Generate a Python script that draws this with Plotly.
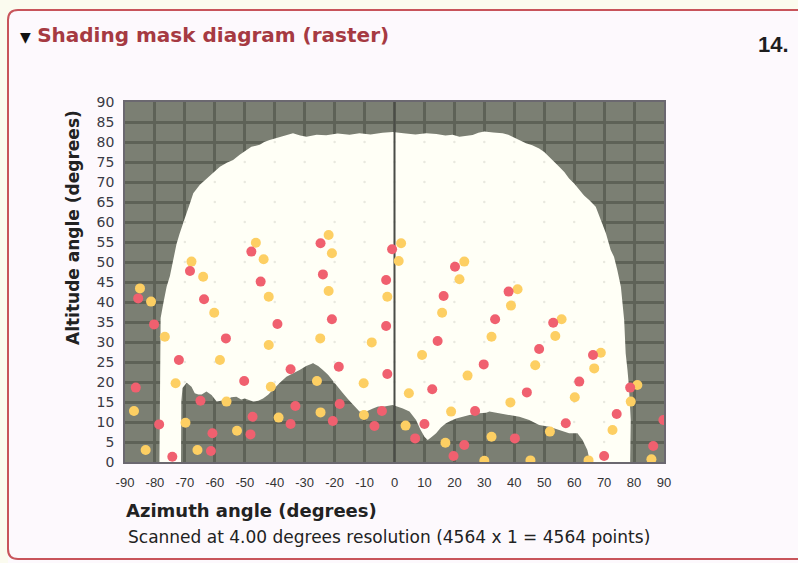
import plotly.graph_objects as go

# ---------------- data ----------------
x_ticks = [-90, -80, -70, -60, -50, -40, -30, -20, -10, 0, 10, 20, 30, 40, 50, 60, 70, 80, 90]
y_ticks = [0, 5, 10, 15, 20, 25, 30, 35, 40, 45, 50, 55, 60, 65, 70, 75, 80, 85, 90]

# upper edge of the visible sky (left wall -> top -> right wall)
sky_upper_az = [-78.5, -78.4, -78.4, -78.1, -77.2, -76.1, -75.0, -73.9, -72.8, -71.8, -70.8, -70.0,
                -68.3, -67.2, -65.0, -63.0, -61.1, -58.3, -56.0, -53.9, -51.7, -49.5, -47.8, -45.0,
                -43.5, -41.7, -38.3, -36.0, -33.9, -31.5, -29.4, -26.0, -22.8, -19.0, -15.0, -11.7,
                -8.0, -4.0, -0.6, 3.0, 7.0, 10.6, 14.0, 17.0, 19.4, 21.7, 24.0, 26.1, 28.0, 30.0,
                33.0, 36.1, 38.0, 39.4, 41.5, 43.9, 46.0, 48.3, 50.0, 51.7, 53.3, 55.0, 56.7, 58.3,
                60.0, 61.7, 63.3, 65.0, 67.2, 68.9, 70.6, 72.2, 73.3, 74.4, 75.6, 76.7, 77.2, 77.8,
                78.3, 78.9, 78.9, 78.7]
sky_upper_alt = [0.0, 10.0, 30.0, 36.0, 39.7, 43.8, 46.5, 51.0, 54.5, 57.0, 59.5, 61.0,
                 64.7, 67.2, 69.3, 70.6, 71.8, 73.8, 74.8, 75.5, 76.8, 78.0, 78.8, 79.3,
                 80.0, 80.5, 81.3, 81.8, 82.2, 81.6, 81.3, 81.8, 81.7, 82.1, 81.8, 82.2,
                 81.9, 82.3, 82.5, 82.2, 81.9, 82.2, 82.0, 81.6, 81.8, 81.3, 81.5, 81.75, 82.3, 82.6,
                 82.4, 82.2, 81.8, 81.3, 80.5, 79.7, 79.2, 78.4, 77.5, 76.3, 75.2, 73.8, 72.5, 70.9,
                 69.6, 68.0, 66.6, 65.5, 63.8, 60.5, 57.2, 53.0, 51.3, 48.0, 43.8, 35.5, 27.2, 23.0,
                 18.8, 10.5, 2.2, 0.0]

# lower edge of the visible sky (obstructions), left -> right
sky_lower_az = [-78.5, -71.3, -71.2, -70.8, -69.4, -67.8, -66.7, -65.5, -64.4, -62.8, -61.1, -59.4,
                -57.5, -56.1, -54.5, -52.8, -51.2, -50.0, -48.5, -47.2, -45.5, -43.9, -42.2, -40.6,
                -38.3, -36.1, -34.0, -31.7, -29.5, -27.2, -25.5, -23.9, -22.2, -20.6, -18.9, -17.2,
                -15.5, -13.9, -11.7, -9.4, -7.2, -5.5, -3.9, -0.6, 1.0, 2.8, 5.0, 7.2, 8.6, 10.0,
                11.1, 12.5, 13.9, 15.5, 17.2, 19.0, 20.6, 22.8, 25.0, 28.3, 30.6, 31.7, 35.0, 38.3,
                41.7, 45.0, 48.3, 51.7, 55.0, 58.3, 61.1, 62.8, 64.4, 65.3, 78.7]
sky_lower_alt = [0.0, 0.0, 15.0, 18.5, 19.8, 18.8, 17.2, 16.9, 16.9, 17.6, 16.75, 15.1,
                 15.4, 15.5, 16.2, 16.3, 15.6, 15.9, 15.4, 15.1, 15.3, 15.9, 16.8, 18.0,
                 19.8, 21.3, 22.2, 23.0, 24.0, 24.7, 24.0, 23.0, 21.8, 20.5, 18.8, 17.2,
                 15.7, 14.25, 12.6, 12.6, 13.4, 13.9, 13.8, 14.25, 13.9, 13.4, 12.6, 10.5, 8.2, 6.3,
                 5.5, 6.3, 7.2, 8.6, 9.7, 10.4, 10.9, 11.4, 11.75, 12.2, 12.3, 12.6, 12.2, 11.8,
                 11.3, 10.5, 9.25, 8.8, 8.0, 7.2, 7.2, 5.5, 3.0, 0.0, 0.0]

yellow_az = [-46.3, -43.7, -67.8, -63.9, -85.0, -42.0, -81.3, -60.2, -76.7, -42.0, -58.3, -73.1,
             -41.3, -56.1, -87.0, -38.7, -69.8, -52.6, -83.1, -65.8,
             -22.0, -20.9, 2.2, 1.4, 23.3, 21.7, -22.0, -2.4, 15.9, -24.8, -7.6, 9.2, 24.4,
             -25.9, -10.3, 4.8, -24.7, -10.2, 18.9, 3.7, 17.0,
             41.1, 38.9, 32.4, 55.8, 53.7, 47.0, 68.9, 66.7, 60.2, 38.7, 81.1, 78.9, 51.9,
             72.8, 32.4, 85.8, 45.4, 64.8, 30.0]
yellow_alt = [54.8, 50.7, 50.1, 46.3, 43.4, 41.3, 40.1, 37.3, 31.3, 29.25, 25.5, 19.7,
              18.8, 15.1, 12.75, 11.1, 9.8, 7.8, 3.0, 3.0,
              56.75, 52.2, 54.7, 50.25, 50.1, 45.7, 42.75, 41.3, 37.3, 30.9, 29.9, 26.75, 21.6,
              20.25, 19.7, 17.2, 12.4, 11.75, 12.6, 9.1, 4.8,
              43.2, 39.1, 31.3, 35.7, 31.5, 24.2, 27.3, 23.4, 16.2, 14.9, 19.25, 15.1, 7.6,
              8.0, 6.3, 0.7, 0.4, 0.4, 0.3]

red_az = [-47.8, -68.3, -44.7, -85.6, -63.6, -80.3, -39.1, -56.3, -72.0, -34.7, -86.4, -50.2,
          -64.8, -33.1, -47.4, -78.6, -34.7, -60.8, -48.1, -61.3, -74.2,
          -24.7, -0.8, 20.2, -23.9, -2.8, 16.4, -20.9, -2.8, 14.4, 29.8, -18.6, -2.4, 12.6,
          -18.3, -4.2, 26.9, -20.6, -6.7, 10.0, 6.9, 23.3, 19.7,
          38.1, 33.6, 53.0, 48.3, 66.3, 61.7, 44.2, 78.7, 74.2, 57.2, 40.2, 86.4, 70.0, 89.8]
red_alt = [52.6, 47.75, 45.1, 40.9, 40.7, 34.4, 34.5, 30.9, 25.5, 23.2, 18.6, 20.25,
           15.3, 14.0, 11.3, 9.4, 9.5, 7.2, 6.9, 2.75, 1.3,
           54.7, 53.2, 48.8, 46.9, 45.5, 41.5, 35.7, 34.0, 30.25, 24.4, 23.8, 22.0, 18.2,
           14.5, 12.75, 12.75, 10.25, 9.0, 9.5, 5.9, 4.25, 1.5,
           42.6, 35.7, 34.8, 28.25, 26.75, 20.1, 17.4, 18.6, 12.0, 9.7, 5.9, 4.0, 1.5, 10.5]

# ---------------- layout helpers ----------------
W, H = 798, 563
L, R, T, B = 125, 664, 102, 462   # plot area in pixels


def fx(px):
    return (px - L) / (R - L)


def fy(py):
    return (B - py) / (B - T)


GRAY = "#7b7f73"
GRID = "#5e6257"
SKY = "#fffff6"
FONT = "Liberation Sans, Arial"
WIDE = "DejaVu Sans, Verdana"

poly_x = sky_upper_az + sky_lower_az[::-1]
poly_y = sky_upper_alt + sky_lower_alt[::-1]


def inside(px, py):
    n = len(poly_x)
    res = False
    j = n - 1
    for i in range(n):
        xi, yi, xj, yj = poly_x[i], poly_y[i], poly_x[j], poly_y[j]
        if (yi > py) != (yj > py):
            xc = xi + (py - yi) * (xj - xi) / (yj - yi)
            if px < xc:
                res = not res
        j = i
    return res


# faint grid-intersection specks visible through the sky area
speck_x, speck_y = [], []
for ax_ in x_ticks[1:-1]:
    for ay_ in y_ticks[1:-1]:
        if inside(ax_, ay_):
            speck_x.append(ax_)
            speck_y.append(ay_)

fig = go.Figure()
fig.add_trace(go.Scatter(x=poly_x, y=poly_y, fill="toself", fillcolor=SKY,
                         mode="lines", line=dict(width=0, color=SKY), hoverinfo="skip",
                         showlegend=False))
fig.add_trace(go.Scatter(x=speck_x, y=speck_y, mode="markers",
                         marker=dict(size=2.5, color="#e9e9df", line=dict(width=0)),
                         hoverinfo="skip", showlegend=False))

# meridian line at azimuth 0
fig.add_trace(go.Scatter(x=[x_ticks[9], x_ticks[9]], y=[y_ticks[0], y_ticks[-1]], mode="lines",
                         line=dict(color="#4a4c47", width=2), hoverinfo="skip", showlegend=False))

fig.add_trace(go.Scatter(x=yellow_az, y=yellow_alt, mode="markers",
                         marker=dict(size=10, color="#fdcf63", line=dict(width=0)),
                         showlegend=False))
fig.add_trace(go.Scatter(x=red_az, y=red_alt, mode="markers",
                         marker=dict(size=10, color="#f0606f", line=dict(width=0)),
                         showlegend=False))

fig.update_xaxes(range=[-90, 90], tickmode="array", tickvals=x_ticks,
                 ticktext=[str(v) for v in x_ticks], showgrid=True, gridcolor=GRID, gridwidth=2.5,
                 zeroline=False, showline=True, mirror=True, linecolor="#6b6870", linewidth=1.5,
                 ticks="", tickfont=dict(family=FONT, size=13, color="#333333"),
                 ticklabelstandoff=8, fixedrange=True)
fig.update_yaxes(range=[0, 90], tickmode="array", tickvals=y_ticks,
                 ticktext=[str(v) for v in y_ticks], showgrid=True, gridcolor=GRID, gridwidth=2.5,
                 zeroline=False, showline=True, mirror=True, linecolor="#6b6870", linewidth=1.5,
                 ticks="", tickfont=dict(family=WIDE, size=14, color="#3a3a44"),
                 ticklabelstandoff=6, fixedrange=True)

# panel border (rounded) and outside strip
r = 10
x0, y0, y1 = 8, 10, 559
border = (f"M {fx(x0)},{fy(y1 - r)} L {fx(x0)},{fy(y0 + r)} "
          f"Q {fx(x0)},{fy(y0)} {fx(x0 + r)},{fy(y0)} L {fx(W + 20)},{fy(y0)} "
          f"L {fx(W + 20)},{fy(y1)} L {fx(x0 + r)},{fy(y1)} Q {fx(x0)},{fy(y1)} {fx(x0)},{fy(y1 - r)} Z")
outside = (f"M {fx(-5)},{fy(-5)} L {fx(W + 20)},{fy(-5)} L {fx(W + 20)},{fy(y0)} "
           f"L {fx(x0 + r)},{fy(y0)} Q {fx(x0)},{fy(y0)} {fx(x0)},{fy(y0 + r)} "
           f"L {fx(x0)},{fy(H + 5)} L {fx(-5)},{fy(H + 5)} Z")
shapes = [
    dict(type="path", xref="paper", yref="paper", path=outside, fillcolor="#fbfbef",
         line=dict(width=0), layer="above"),
    dict(type="path", xref="paper", yref="paper", path=border, fillcolor="rgba(0,0,0,0)",
         line=dict(color="#c8545b", width=2), layer="above"),
]

annotations = [
    dict(xref="paper", yref="paper", x=fx(18), y=fy(35), xanchor="left", yanchor="middle",
         text="<span style='color:#111; font-size:14px'>▼</span> <b>Shading mask diagram (raster)</b>",
         showarrow=False, font=dict(family=WIDE, size=20, color="#a63a42")),
    dict(xref="paper", yref="paper", x=fx(791), y=fy(45), xanchor="right", yanchor="middle",
         text="<b>14.</b>", showarrow=False,
         font=dict(family=FONT, size=22, color="#1e1e1e")),
    dict(xref="paper", yref="paper", x=fx(73), y=fy(228), xanchor="center", yanchor="middle",
         text="<b>Altitude angle (degrees)</b>", textangle=-90, showarrow=False,
         font=dict(family=WIDE, size=17, color="#222222")),
    dict(xref="paper", yref="paper", x=fx(124), y=fy(510), xanchor="left", yanchor="middle",
         text="<b>Azimuth angle (degrees)</b>", showarrow=False,
         font=dict(family=WIDE, size=18, color="#222222")),
    dict(xref="paper", yref="paper", x=fx(126), y=fy(537), xanchor="left", yanchor="middle",
         text="Scanned at 4.00 degrees resolution (4564 x 1 = 4564 points)", showarrow=False,
         font=dict(family=WIDE, size=17, color="#222222")),
]

fig.update_layout(width=W, height=H, margin=dict(l=L, r=W - R, t=T, b=H - B, pad=0),
                  paper_bgcolor="#fdf9fd", plot_bgcolor=GRAY, shapes=shapes,
                  annotations=annotations, showlegend=False)

fig.write_html("out.html", config={"displayModeBar": False},
               post_script="document.body.style.margin='0px';document.body.style.padding='0px';"
                           "document.body.style.overflow='hidden';")
